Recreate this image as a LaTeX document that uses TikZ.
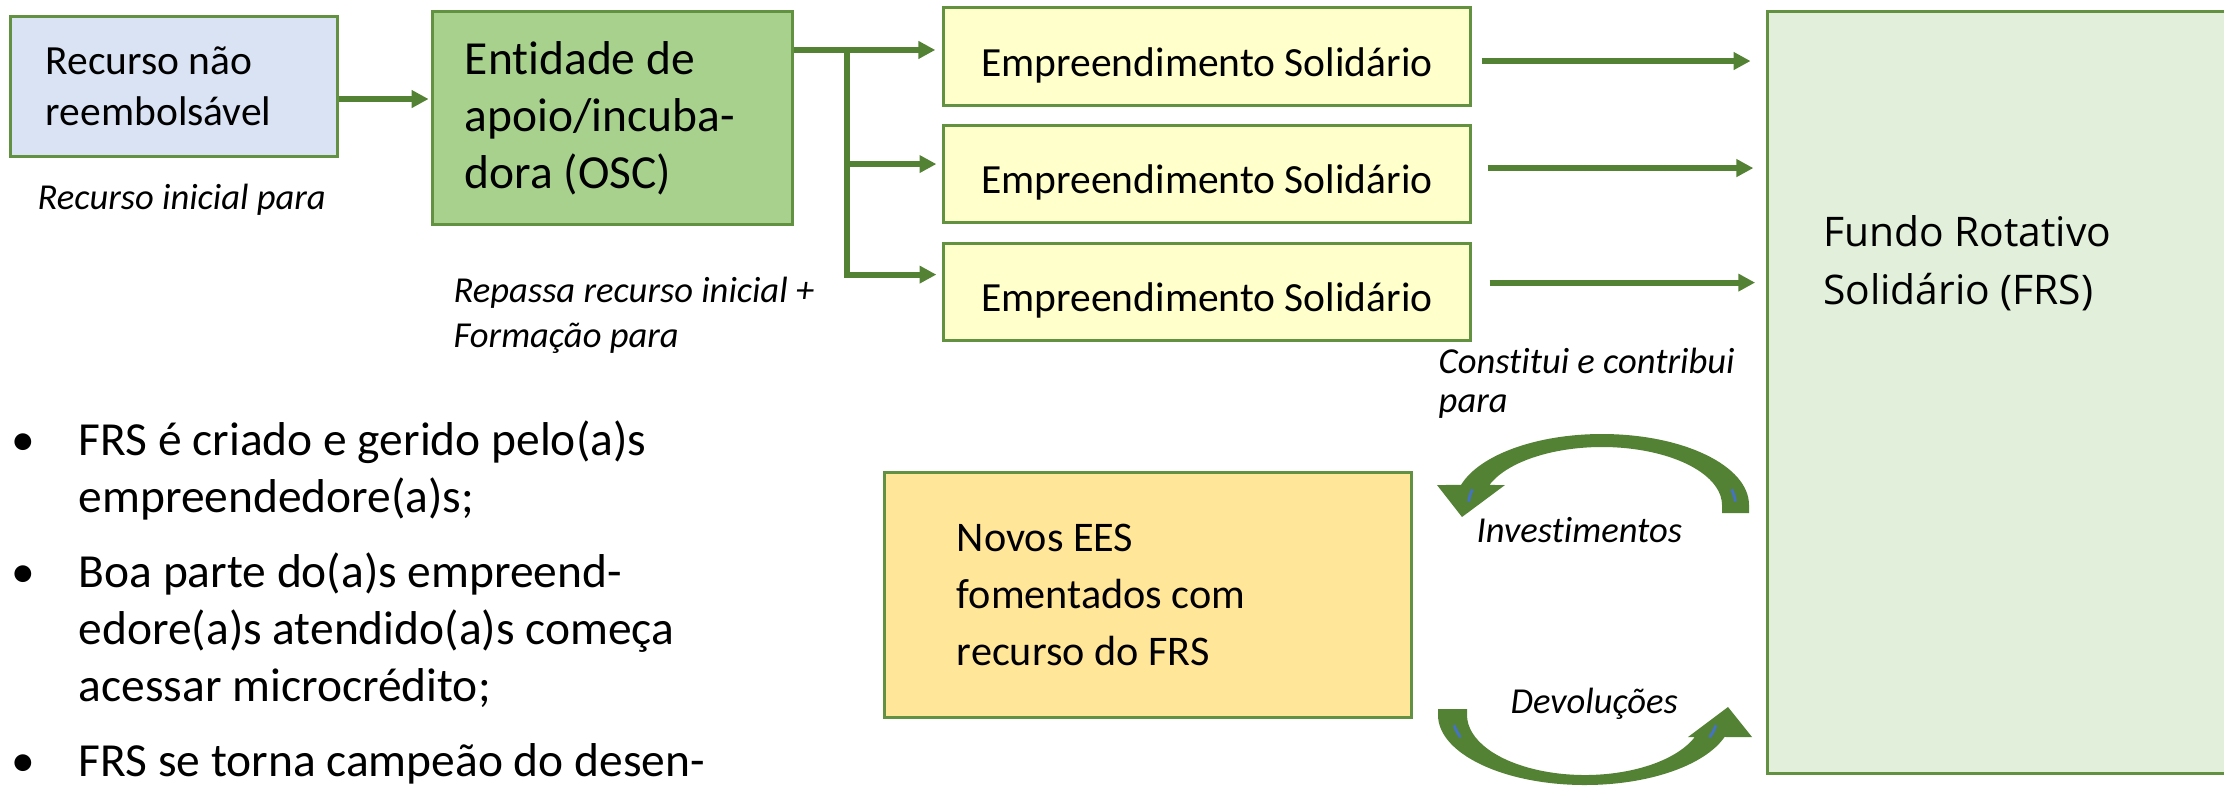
\documentclass[tikz,border=0pt]{standalone}
\usepackage{fontspec}
\setmainfont{Carlito}[Ligatures={NoCommon,NoRequired,NoContextual},Contextuals={NoAlternate}]
\newfontfamily\fundofont{Open Sans}
\usepackage{tikz}
\usetikzlibrary{positioning,arrows.meta,calc}
\definecolor{arrowgreen}{RGB}{84,130,53}
\definecolor{edgegreen}{RGB}{98,145,65}
\definecolor{recblue}{RGB}{218,227,243}
\definecolor{entgreen}{RGB}{169,209,142}
\definecolor{esyellow}{RGB}{255,255,204}
\definecolor{novosgold}{RGB}{255,230,153}
\definecolor{frsgreen}{RGB}{226,239,218}
\definecolor{seamblue}{RGB}{68,114,196}

\begin{document}
\begin{tikzpicture}[
    x=0.01cm, y=-0.01cm,
    Box/.style={
        rectangle,
        draw=edgegreen,
        line width=0.85pt,
        inner sep=0pt,
        align=flush left
    },
    ES/.style={
        Box,
        fill=esyellow,
        minimum width=5.26cm,
        minimum height=0.97cm,
        font=\fontsize{11.8pt}{14pt}\selectfont,
        text height=11.2pt,
        text depth=0pt
    },
    Flow/.style={
        draw=arrowgreen,
        line width=1.7pt,
        -{Triangle[length=4.8pt,width=4.8pt]}
    },
    Note/.style={
        inner sep=0pt,
        align=flush left,
        font=\fontsize{10.4pt}{12.8pt}\selectfont\itshape
    },
    Loop/.style={fill=arrowgreen},
    Seam/.style={draw=seamblue, line width=0.8pt}
    ]
    \useasboundingbox (0,0) rectangle (2224,787);

    \node[Box, fill=recblue, minimum width=3.26cm, minimum height=1.39cm, text width=2.56cm, font=\fontsize{11.8pt}{14.5pt}\selectfont] (rec) at (174,86.5) {Recurso não\\reembolsável};
    \node[Box, fill=entgreen, minimum width=3.59cm, minimum height=2.12cm, text width=2.95cm, font=\fontsize{13.5pt}{16.2pt}\selectfont] (ent) at (612.5,118) {Entidade de\\apoio/incuba-\\dora (OSC)};
    \node[ES] (es1) at (1207,56.5) {Empreendimento Solidário};
    \node[ES] (es2) [below=1.7mm of es1] {Empreendimento Solidário};
    \node[ES] (es3) [below=1.8mm of es2] {Empreendimento Solidário};
    \node[Box, fill=frsgreen, minimum width=4.72cm, minimum height=7.61cm] (frs) at (2004,392.5) {};
    \node[inner sep=0pt, align=flush left, font=\fundofont\fontsize{11.6pt}{16.5pt}\selectfont] (frstxt) [below right=2.04cm and 0.56cm of frs.north west] {Fundo Rotativo\\Solidário (FRS)};
    \node[Box, fill=novosgold, minimum width=5.26cm, minimum height=2.44cm, text width=3.82cm, font=\fontsize{12pt}{16.3pt}\selectfont] (novos) at (1148,595) {Novos EES\\fomentados com\\recurso do FRS};

    \node[Note, anchor=base west] (inicial) at (37,209) {Recurso inicial para};
    \node[Note, anchor=north west] (repassa) at (453,276) {Repassa recurso inicial +\\Formação para};
    \node[Note, anchor=north west, font=\fontsize{10.4pt}{11.1pt}\selectfont\itshape] (constitui) at (1438,347) {Constitui e contribui\\para};
    \node[Note, anchor=base west] (invest) at (1476,542) {Investimentos};
    \node[Note, anchor=base west] (devol) at (1510,713) {Devoluções};

    \node[inner sep=0pt, anchor=north west, align=flush left, font=\fontsize{13.5pt}{16.2pt}\selectfont] (notes) at (78,420) {%
        \llap{\textbullet\hspace{12.5pt}}FRS é criado e gerido pelo(a)s\\
        empreendedore(a)s;\\[5.1pt]
        \llap{\textbullet\hspace{12.5pt}}Boa parte do(a)s empreend-\\
        edore(a)s atendido(a)s começa\\
        acessar microcrédito;\\[5.1pt]
        \llap{\textbullet\hspace{12.5pt}}FRS se torna campeão do desen-};

    \coordinate (fork) at ([xshift=5.3mm,yshift=6.8mm]ent.east);
    \draw[Flow, shorten >=0.8pt] ([yshift=-1.25mm]rec.east) -- ([yshift=-1.25mm]rec.east -| ent.west);
    \draw[Flow, shorten >=2pt] ([yshift=6.8mm]ent.east) -- ([yshift=6.8mm]ent.east -| es1.west);
    \draw[Flow, shorten >=1.7pt] ([yshift=0.95mm]fork |- es2.west) -- ([yshift=0.95mm]es2.west);
    \draw[Flow, shorten >=1.7pt] (fork) |- ([yshift=1.7mm]es3.west);

    \draw[Flow, shorten >=4.5pt] ([xshift=1mm,yshift=-0.45mm]es1.east) -- ([yshift=-0.45mm]es1.east -| frs.west);
    \draw[Flow, shorten >=3.7pt] ([xshift=1.6mm,yshift=0.55mm]es2.east) -- ([yshift=0.55mm]es2.east -| frs.west);
    \draw[Flow, shorten >=3.2pt] ([xshift=1.8mm,yshift=0.9mm]es3.east) -- ([yshift=0.9mm]es3.east -| frs.west);

    \coordinate (invc) at (1602,505);
    \coordinate (devc) at (1585,715);
    \fill[Loop] ($(invc)+(147,8)$) -- ($(invc)+(147,0)$) arc[start angle=0, end angle=-163.6, x radius=147, y radius=71]
        -- ($(invc)+(-165,-20)$) -- ($(invc)+(-140,12)$) -- ($(invc)+(-97,-20)$)
        -- ($(invc)+(-159.8:120 and 58)$) arc[start angle=-159.8, end angle=0, x radius=120, y radius=58]
        -- ($(invc)+(120,8)$) -- cycle;
    \fill[Loop] ($(devc)+(-147,-6)$) -- ($(devc)+(-147,0)$) arc[start angle=180, end angle=18.3, x radius=147, y radius=70]
        -- ($(devc)+(167,22)$) -- ($(devc)+(143,-8)$) -- ($(devc)+(103,22)$)
        -- ($(devc)+(21.5:118 and 60)$) arc[start angle=21.5, end angle=180, x radius=118, y radius=60]
        -- ($(devc)+(-118,-6)$) -- cycle;
    \draw[Seam] ($(invc)+(-166:133.5 and 64.5)$) arc[start angle=-166, end angle=-177, x radius=133.5, y radius=64.5];
    \draw[Seam] ($(invc)+(-14:133.5 and 64.5)$) arc[start angle=-14, end angle=-3, x radius=133.5, y radius=64.5];
    \draw[Seam] ($(devc)+(171:132.5 and 65)$) arc[start angle=171, end angle=160, x radius=132.5, y radius=65];
    \draw[Seam] ($(devc)+(9:132.5 and 65)$) arc[start angle=9, end angle=20, x radius=132.5, y radius=65];
\end{tikzpicture}
\end{document}
